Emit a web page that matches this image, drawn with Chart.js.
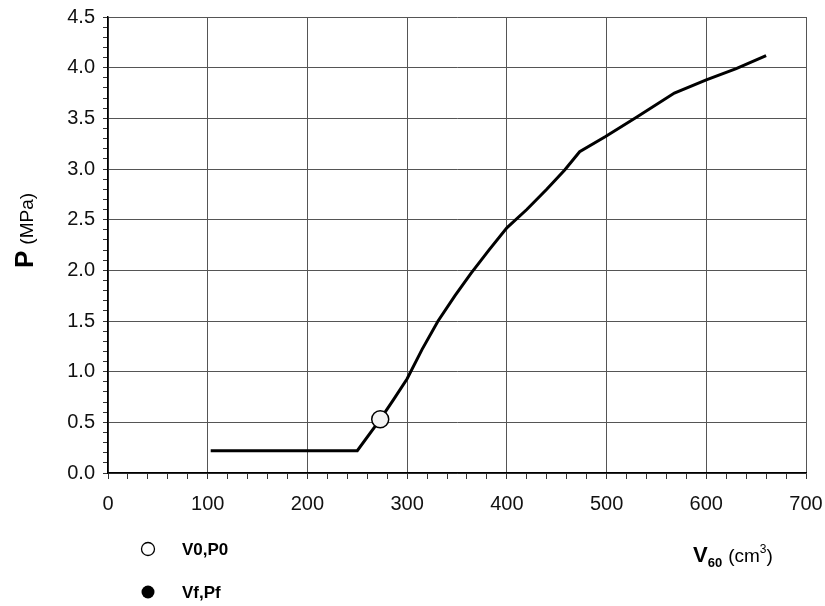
<!DOCTYPE html>
<html>
<head>
<meta charset="utf-8">
<script src="https://cdn.jsdelivr.net/npm/chart.js@4"></script>
<style>
  body { margin: 0; background: #fff; }
  #pvChart { display: block; }
</style>
</head>
<body>
<canvas id="pvChart" width="825" height="606"></canvas>
<script>
// curve: V60 (cm3) vs P (MPa)
const volume = [103, 250, 273, 286, 300, 315, 331, 348, 364, 382, 400, 420, 440, 458, 473, 499, 530, 568, 600, 630, 660];
const pressure = [0.22, 0.22, 0.53, 0.72, 0.93, 1.22, 1.5, 1.75, 1.97, 2.2, 2.42, 2.6, 2.8, 2.99, 3.17, 3.32, 3.51, 3.75, 3.88, 3.99, 4.12];

// marker V0,P0
const v0 = [273];
const p0 = [0.53];

// Vf,Pf has no visible point in the plot
const vf = [];
const pf = [];

const xMin = 0, xMax = 700, xMajor = 100, xMinor = 20;
const yMin = 0, yMax = 4.5, yMajor = 0.5, yMinor = 0.1;

const FONT = "Arial, 'Liberation Sans', sans-serif";

function isMajor(v, step) {
  const r = v / step;
  return Math.abs(r - Math.round(r)) < 1e-6;
}

const ctx = document.getElementById("pvChart").getContext("2d");

// axis titles and legend are drawn by hand (mixed bold / sub / superscript)
const annotations = {
  id: "annotations",
  afterDraw(chart) {
    const c = chart.ctx;
    c.save();
    c.fillStyle = "#000";
    c.textBaseline = "alphabetic";
    c.textAlign = "left";

    // y title: P (MPa)
    c.save();
    c.translate(33, 268);
    c.rotate(-Math.PI / 2);
    c.font = "bold 26px " + FONT;
    c.fillText("P", 0, 0);
    const pw = c.measureText("P").width;
    c.font = "19px " + FONT;
    c.fillText("(MPa)", pw + 6, 0);
    c.restore();

    // x title: V60 (cm3)
    let x = 693;
    const base = 562;
    c.font = "bold 22px " + FONT;
    c.fillText("V", x, base);
    x += c.measureText("V").width;
    c.font = "bold 13px " + FONT;
    c.fillText("60", x, base + 5);
    x += c.measureText("60").width + 6;
    c.font = "19px " + FONT;
    c.fillText("(cm", x, base);
    x += c.measureText("(cm").width;
    c.font = "12px " + FONT;
    c.fillText("3", x, base - 9);
    x += c.measureText("3").width;
    c.font = "19px " + FONT;
    c.fillText(")", x, base);

    // legend
    c.lineWidth = 1.3;
    c.strokeStyle = "#000";
    c.beginPath();
    c.arc(148, 549, 6.5, 0, Math.PI * 2);
    c.fillStyle = "#fff";
    c.fill();
    c.stroke();
    c.beginPath();
    c.arc(148, 592, 6.5, 0, Math.PI * 2);
    c.fillStyle = "#000";
    c.fill();

    c.font = "bold 17px " + FONT;
    c.textBaseline = "middle";
    c.fillText("V0,P0", 182, 550);
    c.fillText("Vf,Pf", 182, 593);
    c.restore();
  },
};

const chart = new Chart(ctx, {
  type: "scatter",
  data: {
    datasets: [
      {
        label: "curve",
        data: volume.map((v, i) => ({ x: v, y: pressure[i] })),
        showLine: true,
        borderColor: "#000",
        borderWidth: 3,
        pointRadius: 0,
        pointHoverRadius: 0,
        tension: 0,
        order: 2,
      },
      {
        label: "V0,P0",
        data: v0.map((v, i) => ({ x: v, y: p0[i] })),
        pointRadius: 8.5,
        pointBackgroundColor: "#f4f4f4",
        pointBorderColor: "#000",
        pointBorderWidth: 1.5,
        order: 0,
      },
      {
        label: "Vf,Pf",
        data: vf.map((v, i) => ({ x: v, y: pf[i] })),
        pointRadius: 6,
        pointBackgroundColor: "#000",
        pointBorderColor: "#000",
        order: 1,
      },
    ],
  },
  options: {
    responsive: false,
    animation: false,
    devicePixelRatio: 1,
    layout: { padding: { top: 17, right: 19, left: 0, bottom: 0 } },
    plugins: {
      legend: { display: false },
      tooltip: { enabled: false },
      title: { display: false },
    },
    scales: {
      x: {
        type: "linear",
        min: xMin,
        max: xMax,
        afterFit: (scale) => {
          scale.height = 133;
          scale.paddingLeft = 0;
          scale.paddingRight = 0;
        },
        border: { color: "#000", width: 1.5 },
        grid: {
          color: (c) => (c.tick && isMajor(c.tick.value, xMajor) ? "#555" : "rgba(0,0,0,0)"),
          tickColor: "#333",
          tickLength: 6,
          lineWidth: 1,
        },
        ticks: {
          stepSize: xMinor,
          autoSkip: false,
          maxRotation: 0,
          padding: 13,
          color: "#111",
          font: { family: FONT, size: 20 },
          callback: (v) => (isMajor(v, xMajor) ? String(v) : ""),
        },
      },
      y: {
        type: "linear",
        min: yMin,
        max: yMax,
        afterFit: (scale) => {
          scale.width = 108;
          scale.paddingTop = 0;
          scale.paddingBottom = 0;
        },
        border: { color: "#000", width: 1.5 },
        grid: {
          color: (c) => (c.tick && isMajor(c.tick.value, yMajor) ? "#555" : "rgba(0,0,0,0)"),
          tickColor: "#333",
          tickLength: 5,
          lineWidth: 1,
        },
        ticks: {
          stepSize: yMinor,
          autoSkip: false,
          padding: 8,
          color: "#111",
          font: { family: FONT, size: 20 },
          callback: (v) => (isMajor(v, yMajor) ? v.toFixed(1) : ""),
        },
      },
    },
  },
  plugins: [annotations],
});
</script>
</body>
</html>
